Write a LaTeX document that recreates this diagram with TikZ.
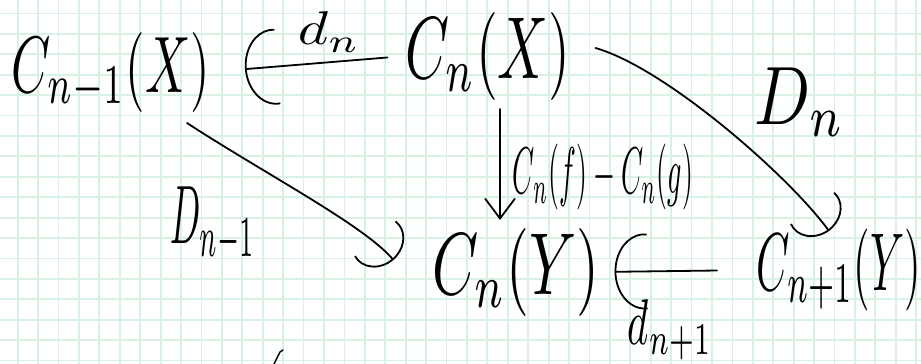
\documentclass[tikz,border=0pt]{standalone}
\usepackage{graphicx}
\usetikzlibrary{arrows.meta,calc}
\definecolor{gridc}{RGB}{216,241,226}
\newcommand{\hwbox}[3]{\resizebox*{#1pt}{#2pt}{#3}}
\begin{document}
\begin{tikzpicture}[x=1pt,y=-1pt,
  obj/.style={inner sep=0pt, outer sep=0pt},
  stroke/.style={line width=1.8pt, line cap=round, line join=round},
  arcarr/.style={stroke, -{Arc Barb[arc=190, length=30pt, width=76pt]}},
  darr/.style={stroke, -{Arc Barb[arc=200, length=24pt, width=56pt]}},
  varr/.style={stroke, -{Straight Barb[length=20pt,width=30pt]}},
  gridline/.style={gridc, line width=1.8pt}
]
\fill[white] (0,0) rectangle (921,364);
\useasboundingbox (0,0) rectangle (921,364);
\begin{scope}
\clip (0,0) rectangle (921,364);
\foreach \i in {0,...,44} \draw[gridline] ({17.7+20.42*\i},0) -- ({17.7+20.42*\i},364);
\foreach \j in {0,...,17} \draw[gridline] (0,{13.4+20.42*\j}) -- (921,{13.4+20.42*\j});
\end{scope}

% objects
\node[obj] (A)  at (111,72)  {\hwbox{198}{80}{$C_{n-1}(X)$}};
\node[obj] (B)  at (488,56)  {\hwbox{165}{88}{$C_n(X)$}};
\node[obj] (Cc) at (516,272) {\hwbox{167}{88}{$C_n(Y)$}};
\node[obj] (D)  at (839,270) {\hwbox{164}{82}{$C_{n+1}(Y)$}};

% labels
\node[obj] (ldn)  at (329,32)  {\hwbox{62}{40}{$d_n$}};
\node[obj] (lfg)  at (603,177) {\hwbox{180}{66}{$C_n(f)-C_n(g)$}};
\node[obj] (lDn)  at (800,102) {\hwbox{90}{69}{$D_n$}};
\node[obj] (lDn1) at (213,225) {\hwbox{85}{76}{$D_{n-1}$}};
\node[obj] (ldn1) at (670,330) {\hwbox{84}{60}{$d_{n+1}$}};

% connectors
\draw[arcarr, shorten <=18pt, shorten >=35pt] (B.west) -- (A.east);
\draw[varr, shorten <=9pt, shorten >=8pt] ([xshift=12pt]B.south) -- ([xshift=-16pt]Cc.north);
\draw[darr] ([xshift=-23pt,yshift=-11pt]A.south east) .. controls +(80,52) and +(-30,-35) .. ([xshift=-39pt,yshift=12pt]Cc.west);
\draw[darr] ([xshift=25pt,yshift=8pt]B.east) .. controls +(70,20) and +(-40,-55) .. ([xshift=-10pt,yshift=-2pt]D.north);
\draw[arcarr, shorten <=40pt, shorten >=15pt] (D.west) -- (Cc.east);

% stray pen mark
\draw[stroke, line width=1.4pt] (274,364) -- (280,352) -- (283,350);
\end{tikzpicture}
\end{document}
